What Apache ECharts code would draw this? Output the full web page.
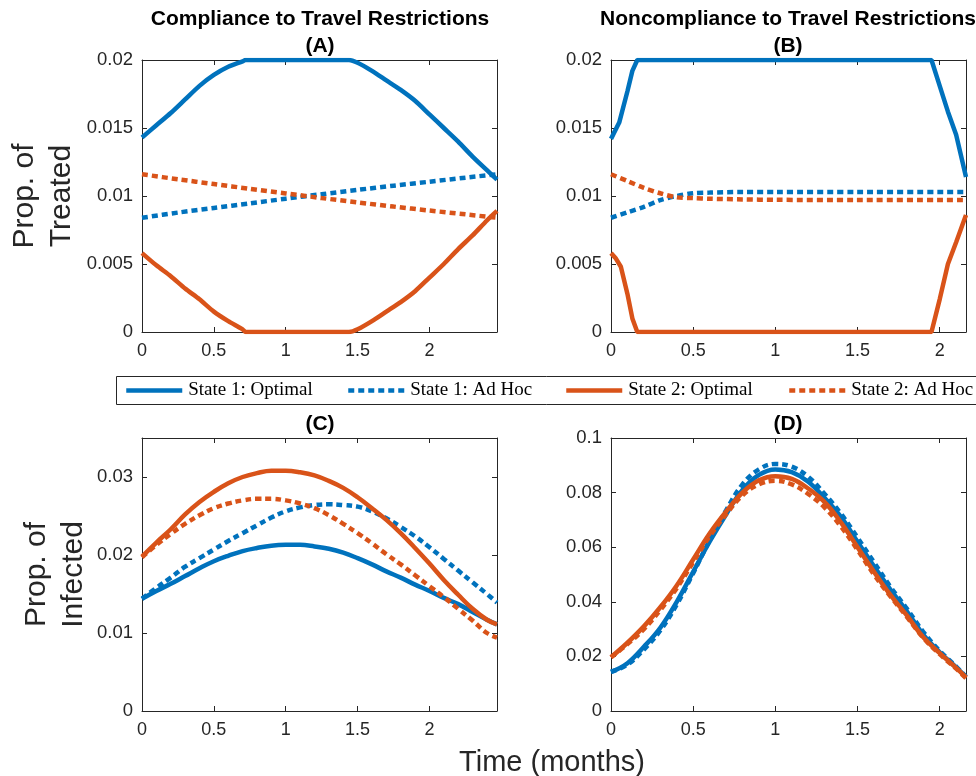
<!DOCTYPE html>
<html>
<head>
<meta charset="utf-8">
<script src="https://cdn.jsdelivr.net/npm/echarts@6/dist/echarts.min.js"></script>
<style>
  html, body { margin: 0; padding: 0; background: #fff; }
  #main { width: 976px; height: 776px; }
</style>
</head>
<body>
<div id="main"></div>
<script>
// series names and colours
var seriesNames = ['State 1: Optimal', 'State 1: Ad Hoc', 'State 2: Optimal', 'State 2: Ad Hoc'];
var blue = '#0072BD';
var orange = '#D95319';

// (A) compliance, treated
var tA_opt = [0, 0.1, 0.2, 0.3, 0.4, 0.5, 0.6, 0.7, 0.72, 1.44, 1.5, 1.6, 1.7, 1.8, 1.9, 2.0, 2.1, 2.2, 2.3, 2.4, 2.47];
var a_s1opt = [0.0143, 0.0152, 0.0161, 0.0171, 0.0181, 0.0189, 0.0195, 0.0199, 0.0200, 0.0200, 0.0198, 0.0192, 0.0185, 0.0178, 0.0170, 0.0160, 0.0150, 0.0140, 0.0129, 0.0119, 0.0112];
var a_s2opt = [0.0058, 0.0049, 0.0041, 0.0032, 0.0024, 0.0015, 0.0008, 0.0002, 0, 0, 0.0002, 0.0008, 0.0015, 0.0022, 0.0030, 0.0040, 0.0050, 0.0061, 0.0071, 0.0082, 0.0089];
var tA_adhoc = [0, 0.25, 0.5, 0.75, 1.0, 1.25, 1.5, 1.75, 2.0, 2.25, 2.47];
var a_s1adhoc = [0.0084, 0.00878, 0.00912, 0.00946, 0.0098, 0.01013, 0.01045, 0.01076, 0.01105, 0.01135, 0.0116];
var a_s2adhoc = [0.0116, 0.01123, 0.01088, 0.01053, 0.01019, 0.00985, 0.00953, 0.00922, 0.00893, 0.00865, 0.0084];

// (B) noncompliance, treated
var tB_s1opt = [0, 0.05, 0.1, 0.13, 0.16, 1.95, 2.0, 2.05, 2.1, 2.16];
var b_s1opt = [0.0142, 0.0154, 0.0177, 0.0192, 0.0200, 0.0200, 0.0181, 0.0162, 0.0145, 0.0114];
var tB_s2opt = [0, 0.03, 0.06, 0.1, 0.13, 0.16, 1.95, 2.0, 2.05, 2.1, 2.16];
var b_s2opt = [0.0058, 0.0054, 0.0048, 0.0028, 0.0010, 0, 0, 0.0024, 0.0050, 0.0066, 0.0086];
var tB_adhoc = [0, 0.1, 0.2, 0.3, 0.4, 0.5, 0.6, 0.8, 1.0, 1.5, 2.16];
var b_s1adhoc = [0.0084, 0.0088, 0.0092, 0.0097, 0.0100, 0.0102, 0.01025, 0.0103, 0.0103, 0.0103, 0.0103];
var b_s2adhoc = [0.0116, 0.0111, 0.0106, 0.0102, 0.0099, 0.00985, 0.0098, 0.00975, 0.00972, 0.0097, 0.0097];

// (C) compliance, infected
var tC = [0, 0.1, 0.2, 0.3, 0.4, 0.5, 0.6, 0.7, 0.8, 0.9, 1.0, 1.1, 1.2, 1.3, 1.4, 1.5, 1.6, 1.7, 1.8, 1.9, 2.0, 2.1, 2.2, 2.3, 2.4, 2.47];
var c_s1opt = [0.0144, 0.0154, 0.0163, 0.0173, 0.0183, 0.0192, 0.0199, 0.0205, 0.0209, 0.0212, 0.0213, 0.0213, 0.0211, 0.0208, 0.0203, 0.0196, 0.0188, 0.0179, 0.0171, 0.0162, 0.0154, 0.0145, 0.0137, 0.0127, 0.0117, 0.0111];
var c_s1adhoc = [0.0144, 0.0158, 0.0171, 0.0185, 0.0196, 0.0207, 0.0218, 0.0228, 0.0238, 0.0248, 0.0256, 0.0261, 0.0264, 0.0265, 0.0264, 0.0262, 0.0256, 0.0247, 0.0236, 0.0224, 0.0210, 0.0195, 0.0180, 0.0165, 0.0150, 0.0139];
var c_s2opt = [0.0198, 0.0216, 0.0233, 0.0252, 0.0268, 0.0281, 0.0292, 0.0300, 0.0305, 0.0308, 0.0308, 0.0306, 0.0302, 0.0295, 0.0286, 0.0274, 0.0260, 0.0245, 0.0228, 0.0209, 0.0189, 0.0168, 0.0149, 0.0131, 0.0117, 0.0111];
var c_s2adhoc = [0.0197, 0.0213, 0.0227, 0.0240, 0.0251, 0.0260, 0.0266, 0.0270, 0.0272, 0.0272, 0.0270, 0.0266, 0.0260, 0.0251, 0.0240, 0.0228, 0.0215, 0.0201, 0.0188, 0.0174, 0.0160, 0.0146, 0.0131, 0.0116, 0.0100, 0.0094];

// (D) noncompliance, infected
var tD = [0, 0.1, 0.2, 0.3, 0.4, 0.5, 0.6, 0.7, 0.8, 0.9, 1.0, 1.1, 1.2, 1.3, 1.4, 1.5, 1.6, 1.7, 1.8, 1.9, 2.0, 2.1, 2.16];
var d_s1opt = [0.0143, 0.0175, 0.0235, 0.0305, 0.040, 0.051, 0.062, 0.072, 0.081, 0.0865, 0.0885, 0.0875, 0.084, 0.078, 0.071, 0.062, 0.053, 0.0445, 0.0365, 0.028, 0.0215, 0.016, 0.0125];
var d_s1adhoc = [0.0143, 0.017, 0.0225, 0.0295, 0.039, 0.0505, 0.0625, 0.0735, 0.083, 0.0885, 0.0905, 0.0895, 0.0858, 0.0795, 0.0722, 0.0635, 0.0545, 0.0455, 0.0375, 0.029, 0.022, 0.0163, 0.0125];
var d_s2opt = [0.0197, 0.025, 0.031, 0.038, 0.046, 0.0555, 0.065, 0.073, 0.080, 0.0845, 0.086, 0.085, 0.0815, 0.0765, 0.069, 0.060, 0.051, 0.0425, 0.035, 0.027, 0.0212, 0.0158, 0.0123];
var d_s2adhoc = [0.0197, 0.0245, 0.030, 0.037, 0.045, 0.0545, 0.064, 0.072, 0.079, 0.083, 0.0843, 0.083, 0.0795, 0.0745, 0.0675, 0.059, 0.050, 0.042, 0.0345, 0.0268, 0.0208, 0.0155, 0.012];

// axis ranges
var xMaxCompliance = 2.47;
var xMaxNoncompliance = 2.16;

var chart = echarts.init(document.getElementById('main'));
var axisColor = '#262626';
var font = 'Liberation Sans, Arial, Helvetica, sans-serif';

var grids = [
  { left: 142, top: 60, width: 355, height: 272 },
  { left: 611, top: 60, width: 355, height: 272 },
  { left: 142, top: 438, width: 355, height: 273 },
  { left: 611, top: 438, width: 355, height: 273 }
];

function pairs(xs, ys) {
  return xs.map(function (x, i) { return [x, ys[i]]; });
}

var xAxes = [], yAxes = [];
function addAxes(gi, xmax, ymax, yint, yname, nameGap) {
  var base = {
    gridIndex: gi,
    type: 'value',
    min: 0,
    splitLine: { show: false },
    axisLine: { show: true, onZero: false, lineStyle: { color: axisColor, width: 1 } },
    axisTick: { show: true, inside: true, length: 5, lineStyle: { color: axisColor } }
  };
  xAxes.push(Object.assign({}, base, {
    position: 'bottom', max: xmax, interval: 0.5,
    axisLabel: { color: axisColor, fontSize: 18, fontFamily: font, margin: 10, showMaxLabel: false }
  }));
  xAxes.push(Object.assign({}, base, {
    position: 'top', max: xmax, interval: 0.5, axisLabel: { show: false }
  }));
  yAxes.push(Object.assign({}, base, {
    position: 'left', max: ymax, interval: yint,
    name: yname, nameLocation: 'middle', nameGap: nameGap, nameRotate: 90,
    nameTextStyle: { fontSize: 30, color: axisColor, fontFamily: font, lineHeight: 37 },
    axisLabel: { color: axisColor, fontSize: 18.5, fontFamily: font, margin: 9,
      showMaxLabel: Math.abs(ymax / yint - Math.round(ymax / yint)) < 1e-9 }
  }));
  yAxes.push(Object.assign({}, base, {
    position: 'right', max: ymax, interval: yint, axisLabel: { show: false }
  }));
}
addAxes(0, xMaxCompliance, 0.02, 0.005, 'Prop. of\nTreated', 62);
addAxes(1, xMaxNoncompliance, 0.02, 0.005, '', 0);
addAxes(2, xMaxCompliance, 0.035, 0.01, 'Prop. of\nInfected', 50);
addAxes(3, xMaxNoncompliance, 0.1, 0.02, '', 0);

function mk(name, xs, ys, color, dotted, gi, smooth) {
  return {
    name: name,
    type: 'line',
    xAxisIndex: gi * 2,
    yAxisIndex: gi * 2,
    data: pairs(xs, ys),
    showSymbol: false,
    symbol: 'none',
    smooth: smooth,
    animation: false,
    itemStyle: { color: color },
    lineStyle: { color: color, width: 4.5, type: dotted ? [6, 4] : 'solid', cap: 'butt' }
  };
}

var series = [
  mk(seriesNames[0], tA_opt, a_s1opt, blue, false, 0, 0.25),
  mk(seriesNames[1], tA_adhoc, a_s1adhoc, blue, true, 0, 0.3),
  mk(seriesNames[2], tA_opt, a_s2opt, orange, false, 0, 0.25),
  mk(seriesNames[3], tA_adhoc, a_s2adhoc, orange, true, 0, 0.3),

  mk(seriesNames[0], tB_s1opt, b_s1opt, blue, false, 1, false),
  mk(seriesNames[1], tB_adhoc, b_s1adhoc, blue, true, 1, 0.3),
  mk(seriesNames[2], tB_s2opt, b_s2opt, orange, false, 1, false),
  mk(seriesNames[3], tB_adhoc, b_s2adhoc, orange, true, 1, 0.3),

  mk(seriesNames[0], tC, c_s1opt, blue, false, 2, 0.4),
  mk(seriesNames[1], tC, c_s1adhoc, blue, true, 2, 0.4),
  mk(seriesNames[2], tC, c_s2opt, orange, false, 2, 0.4),
  mk(seriesNames[3], tC, c_s2adhoc, orange, true, 2, 0.4),

  mk(seriesNames[0], tD, d_s1opt, blue, false, 3, 0.4),
  mk(seriesNames[1], tD, d_s1adhoc, blue, true, 3, 0.4),
  mk(seriesNames[2], tD, d_s2opt, orange, false, 3, 0.4),
  mk(seriesNames[3], tD, d_s2adhoc, orange, true, 3, 0.4)
];

// one legend per entry, laid out in a single row like the original
var legendLefts = [124, 346, 564, 787];
var legends = seriesNames.map(function (n, i) {
  return {
    data: [n],
    left: legendLefts[i],
    top: 381,
    padding: 0,
    itemWidth: 56,
    itemHeight: 14,
    selectedMode: false,
    textStyle: { fontFamily: 'Liberation Serif, Times New Roman, serif', fontSize: 19, color: '#000', padding: [0, 0, 0, 1] },
    itemStyle: { opacity: 0 },
    lineStyle: { width: 4.5 }
  };
});

var titleStyle = { fontSize: 21, fontWeight: 'bold', color: '#000', fontFamily: font };
var option = {
  backgroundColor: '#fff',
  animation: false,
  title: [
    { text: 'Compliance to Travel Restrictions', left: 320, top: 9, textAlign: 'center', textStyle: titleStyle, padding: 0 },
    { text: '(A)', left: 320, top: 36, textAlign: 'center', textStyle: titleStyle, padding: 0 },
    { text: 'Noncompliance to Travel Restrictions', left: 788, top: 9, textAlign: 'center', textStyle: titleStyle, padding: 0 },
    { text: '(B)', left: 788, top: 36, textAlign: 'center', textStyle: titleStyle, padding: 0 },
    { text: '(C)', left: 320, top: 414, textAlign: 'center', textStyle: titleStyle, padding: 0 },
    { text: '(D)', left: 788, top: 414, textAlign: 'center', textStyle: titleStyle, padding: 0 },
    { text: 'Time (months)', left: 552, top: 748, textAlign: 'center', padding: 0,
      textStyle: { fontSize: 29, fontWeight: 'normal', color: axisColor, fontFamily: font } }
  ],
  graphic: [{
    type: 'rect',
    z: 0,
    silent: true,
    shape: { x: 116.5, y: 376.5, width: 880, height: 28 },
    style: { fill: '#fff', stroke: axisColor, lineWidth: 1 }
  }],
  legend: legends,
  grid: grids,
  xAxis: xAxes,
  yAxis: yAxes,
  series: series
};
chart.setOption(option);
</script>
</body>
</html>
